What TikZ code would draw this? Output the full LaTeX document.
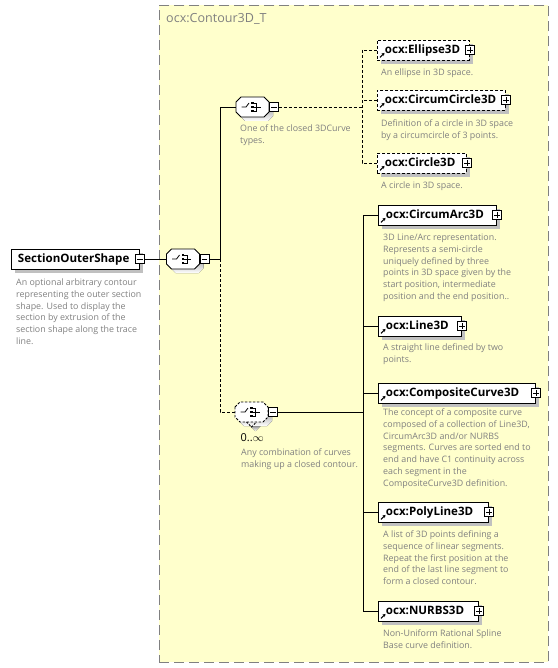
\documentclass[tikz,border=0pt]{standalone}
\usepackage{fontspec}
\setmainfont{Open Sans}
\usetikzlibrary{arrows.meta,shadows}

\definecolor{bgyellow}{RGB}{255,255,204}
\definecolor{framegray}{RGB}{128,128,128}
\definecolor{shade}{RGB}{192,192,192}
\definecolor{descgray}{RGB}{128,128,128}

\newcommand\elemfont{\bfseries\fontsize{11.6}{13}\selectfont}
\newcommand\descfont{\fontsize{8.9}{11.8}\selectfont}

\tikzset{
  conn/.style={draw=black, line width=0.9bp},
  optconn/.style={conn, dash pattern=on 3bp off 2bp},
  boxshadow/.style={drop shadow={shadow xshift=4bp, shadow yshift=-4bp, fill=shade, opacity=1}},
  elem/.style={draw=black, fill=white, line width=0.9bp, anchor=west, inner sep=0pt,
    minimum height=20bp, text height=8.5bp, text depth=1.5bp, align=left,
    font=\elemfont, boxshadow},
  optelem/.style={elem, dash pattern=on 3bp off 2bp},
  signbox/.style={draw=black, fill=white, line width=0.7bp, minimum size=9bp, inner sep=0pt},
  plusbox/.style={signbox, path picture={
      \draw[line width=0.7bp] ([xshift=-2.6bp]path picture bounding box.center) -- ([xshift=2.6bp]path picture bounding box.center)
                              ([yshift=-2.6bp]path picture bounding box.center) -- ([yshift=2.6bp]path picture bounding box.center);}},
  minusbox/.style={signbox, path picture={
      \draw[line width=0.7bp] ([xshift=-2.6bp]path picture bounding box.center) -- ([xshift=2.6bp]path picture bounding box.center);}},
  refarrow/.style={line width=1.1bp, -{Stealth[length=2.8bp,width=3.4bp]}},
  descr/.style={anchor=north west, inner sep=0pt, align=left, font=\descfont, text=descgray},
  compshape/.style={minimum width=33bp, minimum height=20bp, inner sep=0pt},
}

% choice compositor: name, centre x, centre y, border style
\newcommand\choicegroup[4]{%
  \begin{scope}[shift={(#2,#3)}]
    \fill[shade] (-12.5,-1)--(-7.5,-6)--(15.5,-6)--(20.5,-1)--(20.5,9)--(15.5,14)--(-7.5,14)--(-12.5,9)--cycle;
    \filldraw[fill=white, line width=0.9bp, #4] (-16.5,-5)--(-11.5,-10)--(11.5,-10)--(16.5,-5)--(16.5,5)--(11.5,10)--(-11.5,10)--(-16.5,5)--cycle;
    \draw[line width=0.8bp] (-11,0)--(-6.5,0)--(-3.5,-4);
    \fill (-1.3,-5.3) rectangle (1.3,-2.7);
    \fill (-1.3,-1.3) rectangle (1.3,1.3);
    \fill (-1.3,2.7) rectangle (1.3,5.3);
    \draw[line width=0.8bp] (1.3,-4)--(4,-4)--(4,4)--(1.3,4) (1.3,0)--(8,0);
    \node[compshape] (#1) at (0,0) {};
    \node[minusbox] (#1-m) at (21.5,0) {};
  \end{scope}}

\newcommand\descnode[4]{\node[descr] (#1) at (#2,#3-4.9) {\rule{0pt}{7.2bp}#4};}

\begin{document}
\begin{tikzpicture}[x=1bp, y=-1bp]
\useasboundingbox (0,0) rectangle (558,668);

% complex type container
\node[draw=framegray, fill=bgyellow, line width=0.9bp, dash pattern=on 10bp off 5bp,
      minimum width=389bp, minimum height=657bp, inner sep=0pt, anchor=north west] (ctype) at (159,5) {};
\node[anchor=west, inner sep=0pt, text=framegray, font=\fontsize{12.6}{14}\selectfont] (ctitle) at (166,18.5) {ocx:Contour3D\_T};

% root element
\node[elem, text width=128bp] (section) at (11,259) {\hspace*{6.5bp}SectionOuterShape};
\node[minusbox] (section-m) at (section.east) {};
\descnode{d-section}{16}{283}{An optional arbitrary contour\\representing the outer section\\shape. Used to display the\\section by extrusion of the\\section shape along the trace\\line.}

% compositors
\choicegroup{choiceA}{183}{259}{}
\choicegroup{choiceB}{252.5}{107}{}
\fill[shade] (249.5,425) -- (255.5,431) -- (261.5,425) -- cycle;
\choicegroup{choiceC}{251.5}{412}{dash pattern=on 2.5bp off 1.5bp}
\draw[line width=0.8bp, dash pattern=on 2bp off 1.5bp] (246.5,422) -- (251.5,427) -- (256.5,422);
\descnode{d-choiceB}{240}{129}{One of the closed 3DCurve\\types.}
\node[anchor=west, inner sep=0pt, font=\fontsize{11}{12}\selectfont] (mult) at (240.5,437.5) {0..$\infty$};
\descnode{d-choiceC}{241}{453}{Any combination of curves\\making up a closed contour.}

% closed curve choice
\node[optelem, text width=92bp] (ellipse) at (377,50) {\hspace*{7.5bp}ocx:Ellipse3D};
\node[optelem, text width=128bp] (circumcircle) at (377,100) {\hspace*{7.5bp}ocx:CircumCircle3D};
\node[optelem, text width=89bp] (circle) at (377,163) {\hspace*{7.5bp}ocx:Circle3D};
\descnode{d-ellipse}{381}{73}{An ellipse in 3D space.}
\descnode{d-circumcircle}{381}{124}{Definition of a circle in 3D space\\by a circumcircle of 3 points.}
\descnode{d-circle}{381}{186}{A circle in 3D space.}

% curve segment choice
\node[elem, text width=118bp] (circumarc) at (378,215) {\hspace*{7.5bp}ocx:CircumArc3D};
\node[elem, text width=83bp] (line3d) at (378,326) {\hspace*{7.5bp}ocx:Line3D};
\node[elem, text width=157bp] (composite) at (378,393) {\hspace*{7.5bp}ocx:CompositeCurve3D};
\node[elem, text width=110bp] (polyline) at (378,512) {\hspace*{7.5bp}ocx:PolyLine3D};
\node[elem, text width=100bp] (nurbs) at (378,611) {\hspace*{7.5bp}ocx:NURBS3D};
\descnode{d-circumarc}{383}{238}{3D Line/Arc representation.\\Represents a semi-circle\\uniquely defined by three\\points in 3D space given by the\\start position, intermediate\\position and the end position..}
\descnode{d-line3d}{383}{348}{A straight line defined by two\\points.}
\descnode{d-composite}{383}{413}{The concept of a composite curve\\composed of a collection of Line3D,\\CircumArc3D and/or NURBS\\segments. Curves are sorted end to\\end and have C1 continuity across\\each segment in the\\CompositeCurve3D definition.}
\descnode{d-polyline}{383}{535}{A list of 3D points defining a\\sequence of linear segments.\\Repeat the first position at the\\end of the last line segment to\\form a closed contour.}
\descnode{d-nurbs}{383}{634}{Non-Uniform Rational Spline\\Base curve definition.}

% expand boxes and reference markers
\foreach \n in {ellipse,circumcircle,circle,circumarc,line3d,composite,polyline,nurbs}{
  \node[plusbox] (\n-p) at (\n.east) {};
  \draw[refarrow] ([shift={(3,-3)}]\n.south west) -- ++(4.5,-4.5);
}

% connectors
\coordinate (spineA) at (220,259);
\coordinate (spineTop) at (220,107);
\coordinate (spineBot) at (220,412);
\coordinate (spineB) at (362,107);
\coordinate (spineC) at (363,412);

\draw[conn] (section-m.east) -- (choiceA.west);
\draw[conn] (choiceA-m.east) -- (spineA);
\draw[conn] (spineA) -- (spineTop) -- (choiceB.west);
\draw[optconn] (spineA) -- (spineBot) -- (choiceC.west);

\draw[optconn] (choiceB-m.east) -- (spineB);
\draw[optconn] (ellipse.west) -- (ellipse.west -| spineB) -- (circle.west -| spineB) -- (circle.west);
\draw[optconn] (circumcircle.west) -- (circumcircle.west -| spineB);

\draw[conn] (choiceC-m.east) -- (spineC);
\draw[conn] (circumarc.west) -- (circumarc.west -| spineC) -- (nurbs.west -| spineC) -- (nurbs.west);
\foreach \n in {line3d,composite,polyline}{
  \draw[conn] (\n.west) -- (\n.west -| spineC);
}
\end{tikzpicture}
\end{document}
